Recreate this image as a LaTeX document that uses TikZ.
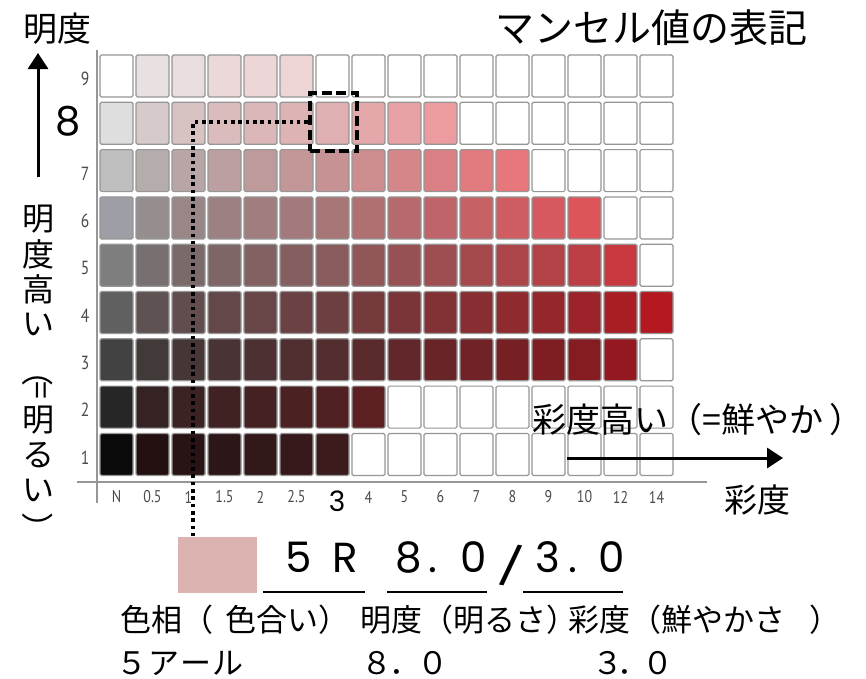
\documentclass[tikz,border=0pt]{standalone}
\usepackage{fontspec}
\usetikzlibrary{arrows.meta}
\newfontfamily\jpf{Noto Sans CJK JP}
\newfontfamily\popf{Poppins}
\newfontfamily\libf{Liberation Sans}
\newfontfamily\tkf[FakeStretch=0.82]{PT Sans}
\definecolor{axisgray}{RGB}{150,150,150}
\definecolor{labgray}{RGB}{75,75,75}
\definecolor{swatchc}{RGB}{218,178,175}
\definecolor{cellline}{RGB}{150,150,150}
\begin{document}
\begin{tikzpicture}[x=1pt,y=-1pt,
  jptext/.style={font=\jpf\fontsize{#1}{#1}\selectfont, inner sep=0pt},
  poptext/.style={font=\popf\fontsize{#1}{#1}\selectfont, inner sep=0pt},
  ticklab/.style={font=\tkf\fontsize{17}{17}\selectfont, text=labgray, inner sep=0pt},
  rowlab/.style={font=\tkf\fontsize{19}{19}\selectfont, text=labgray, inner sep=0pt},
  cellbox/.style={draw=cellline, line width=1.2pt, rounded corners=1.5pt},
  axisline/.style={draw=axisgray, line width=2pt},
  bigarrow/.style={line width=3pt, -{Triangle[width=20pt,length=16pt]}},
  dotline/.style={line width=3.6pt, dash pattern=on 3.6pt off 3.7pt},
  selbox/.style={draw, line width=4.5pt, dash pattern=on 10pt off 4.5pt, minimum width=47pt, minimum height=58pt, inner sep=0pt},
  uline/.style={line width=2.5pt}
]
\useasboundingbox (0,0) rectangle (866,678);
\fill[white] (0,0) rectangle (866,678);

% grid of colour cells
\foreach \v/\L/\d/\r/\g/\s/\e in {9/236/4/2.5/15/2/6, 8/222/10/4/27/1/10, 7/190/12/6.8/25/1/12, 6/158/12/7.5/23/1/14, 5/126/10/7/20/1/15, 4/96/5/6.5/19/1/16, 3/66/3/7/12/1/15, 2/38/-10/11/3/1/8, 1/10/-20/10/-10/1/7}{
  \foreach \k/\c in {1/0,2/0.5,3/1,4/1.5,5/2,6/2.5,7/3,8/4,9/5,10/6,11/7,12/8,13/9,14/10,15/12,16/14}{
    \pgfmathsetmacro\xa{100+(\k-1)*36}
    \pgfmathsetmacro\ya{55+(9-\v)*47.3}
    \pgfmathtruncatemacro\R{\c==0 ? \L : max(0,min(255,\L-(\d)+\r*\c))}
    \pgfmathtruncatemacro\G{\c==0 ? \L : max(0,min(255,\L-(\g)*sqrt(\c)))}
    \pgfmathtruncatemacro\B{\c==0 ? \L+(\v==6 ? 8 : 0) : max(0,min(255,\L-(\g)*sqrt(\c)+0.6*\c))}
    \definecolor{cc}{RGB}{\R,\G,\B}
    \ifnum\k<\s
      \draw[cellbox, fill=white] (\xa,\ya) rectangle ++(33,42);
    \else\ifnum\k>\e
      \draw[cellbox, fill=white] (\xa,\ya) rectangle ++(33,42);
    \else
      \draw[cellbox, fill=cc] (\xa,\ya) rectangle ++(33,42);
    \fi\fi
  }
}

% axes
\coordinate (ytop) at (97,50);
\coordinate (ybot) at (97,503);
\coordinate (xl) at (77,482);
\coordinate (xr) at (707,482);
\draw[axisline] (ytop) -- (ybot);
\draw[axisline] (xl) -- (xr);

% row labels
\foreach \v in {9,7,6,5,4,3,2,1}{
  \node[rowlab] (r\v) at (85,{79+(9-\v)*47.3}) {\v};
}
\node[poptext=40] (r8) at (68,121) {8};

% column labels
\foreach \k/\t in {1/N,2/0.5,3/1,4/1.5,5/2,6/2.5,8/4,9/5,10/6,11/7,12/8,13/9,14/10,15/12,16/14}{
  \node[ticklab] (t\k) at ({116.5+(\k-1)*36},497) {\t};
}
\node[poptext=28] (t7) at (337,501) {3};

% titles and axis captions
\node[jptext=39] (title) at (651,28) {マンセル値の表記};
\node[jptext=34] (ytitle) at (57,29) {明度};
\node[jptext=33] (xtitle) at (757,500) {彩度};
\node[jptext=34, anchor=west] (xcap) at (532,420) {彩度高い（=鮮やか\kern6pt）};

% arrows
\coordinate (upS) at (38,177);
\coordinate (upE) at (38,53);
\draw[bigarrow] (upS) -- (upE);
\coordinate (rtS) at (567,458);
\coordinate (rtE) at (783,458);
\draw[bigarrow] (rtS) -- (rtE);

% vertical caption
\node[jptext=32] (v1) at (38,219) {明};
\node[jptext=32] (v2) at (38,254) {度};
\node[jptext=32] (v3) at (38,289) {高};
\node[jptext=32] (v4) at (38,324) {い};
\node[jptext=32, rotate=-90] (v5) at (38,370) {（};
\node[jptext=32, rotate=-90] (v6) at (38,390) {=};
\node[jptext=32] (v7) at (38,420) {明};
\node[jptext=32] (v8) at (38,455) {る};
\node[jptext=32] (v9) at (38,490) {い};
\node[jptext=32, rotate=-90] (v10) at (38,528) {）};

% selection and swatch
\node[selbox] (sel) at (333.5,122) {};
\node[fill=swatchc, minimum width=79pt, minimum height=56pt, inner sep=0pt] (sw) at (217.5,565) {};
\coordinate (cor) at (193,122);
\draw[dotline] (sel.west) -- (cor) -- (cor |- sw.north);

% notation 5R 8.0/3.0
\node[poptext=42, anchor=base] (n5) at (298.5,572) {5};
\node[poptext=42, anchor=base] (nR) at (345,572) {R};
\node[poptext=42, anchor=base] (n8) at (409,572) {8};
\node[poptext=42, anchor=base] (np1) at (433,572) {.};
\node[poptext=42, anchor=base] (n0a) at (474,572) {0};
\node[font=\libf\fontsize{58}{58}\selectfont, inner sep=0pt, rotate=-10] (nsl) at (511.5,565) {/};
\node[poptext=42, anchor=base] (n3) at (548,572) {3};
\node[poptext=42, anchor=base] (np2) at (573,572) {.};
\node[poptext=42, anchor=base] (n0b) at (612,572) {0};
\coordinate (u1a) at (263,592); \coordinate (u1b) at (365,592);
\coordinate (u2a) at (387,592); \coordinate (u2b) at (487,592);
\coordinate (u3a) at (523,592); \coordinate (u3b) at (623,592);
\draw[uline] (u1a) -- (u1b);
\draw[uline] (u2a) -- (u2b);
\draw[uline] (u3a) -- (u3b);

% bottom captions
\node[jptext=31, anchor=west] (c1) at (120,620) {色相（\kern12pt色合い）};
\node[jptext=31, anchor=west] (c2) at (360,620) {明度（明るさ）};
\node[jptext=31, anchor=west] (c3) at (568,620) {彩度（鮮やかさ\kern24pt）};
\node[jptext=31, anchor=west] (d1) at (116,663) {５\kern1pt ア\kern1pt ー\kern1pt ル};
\node[jptext=31, anchor=west] (d2) at (361,663) {８\kern-3pt．\kern-3pt０};
\node[jptext=31, anchor=west] (d3) at (592,663) {３\kern-6pt．\kern-6pt０};
\end{tikzpicture}
\end{document}
